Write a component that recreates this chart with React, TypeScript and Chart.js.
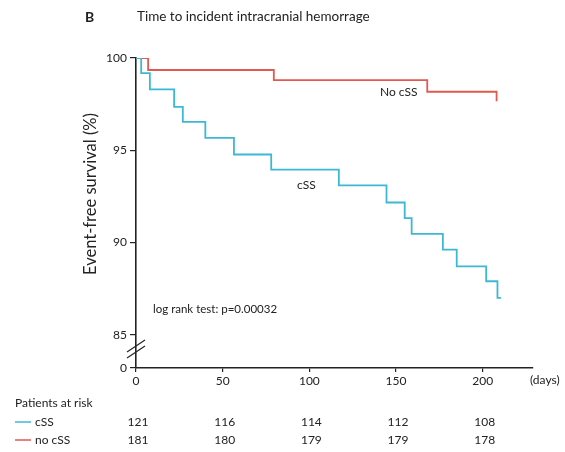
import React, { useEffect, useRef } from "react";
import { Chart, registerables } from "chart.js";
Chart.register(...registerables);

const cssDays = [0, 3, 8, 22, 27, 40, 56.5, 78, 117, 144.5, 155, 159, 177, 185, 202, 208.5, 210.5];
const cssSurvival = [100, 99.18, 98.3, 97.35, 96.54, 95.67, 94.77, 93.95, 93.1, 92.17, 91.32, 90.47, 89.62, 88.71, 87.9, 87.0, 87.0];
const noCssDays = [0, 7, 79.5, 168, 208];
const noCssSurvival = [100, 99.35, 98.8, 98.17, 97.66];
const xTicks = [0, 50, 100, 150, 200];
const yTicks = [85, 90, 95, 100];
const yBreakValue = 83.2;
const riskGroups = ["cSS", "no cSS"];
const riskCss = [121, 116, 114, 112, 108];
const riskNoCss = [181, 180, 179, 179, 178];

const BLUE = "#3db8d4";
const RED = "#e05a50";
const TXT = "#222";
const FONT = "Lato";

export default function App() {
  const ref = useRef<HTMLCanvasElement | null>(null);
  useEffect(() => {
    if (!ref.current) return;
    const overlay = {
      id: "overlay",
      afterDraw(chart: any) {
        const ctx = chart.ctx as CanvasRenderingContext2D;
        const xs = chart.scales.x;
        ctx.save();
        ctx.fillStyle = TXT;
        ctx.textBaseline = "middle";
        ctx.textAlign = "left";
        ctx.font = `bold 14px ${FONT}`;
        ctx.fillText("B", 85, 17);
        ctx.font = `13.5px ${FONT}`;
        ctx.fillText("Time to incident intracranial hemorrage", 137, 17);
        // y title
        ctx.save();
        ctx.translate(91, 194);
        ctx.rotate(-Math.PI / 2);
        ctx.textAlign = "center";
        ctx.font = `16.5px ${FONT}`;
        ctx.fillText("Event-free survival (%)", 0, 0);
        ctx.restore();
        // annotations
        ctx.font = `12px ${FONT}`;
        ctx.fillText("No cSS", 380, 92);
        ctx.fillText("cSS", 297, 185);
        ctx.font = `11.5px ${FONT}`;
        ctx.fillText("log rank test: p=0.00032", 153, 309);
        ctx.font = `12px ${FONT}`;
        ctx.fillText("(days)", 530, 380);
        // break marks
        ctx.strokeStyle = "#222";
        ctx.lineWidth = 1.2;
        for (const y0 of [346, 352]) {
          ctx.beginPath();
          ctx.moveTo(127, y0 + 6);
          ctx.lineTo(145, y0 - 6);
          ctx.stroke();
        }
        // risk table
        ctx.fillText("Patients at risk", 15, 403);
        const rows = [riskCss, riskNoCss];
        const colors = [BLUE, RED];
        const ys = [422, 440];
        rows.forEach((row, i) => {
          ctx.strokeStyle = colors[i];
          ctx.lineWidth = 1.5;
          ctx.beginPath();
          ctx.moveTo(15, ys[i]);
          ctx.lineTo(31, ys[i]);
          ctx.stroke();
          ctx.textAlign = "left";
          ctx.fillText(riskGroups[i], 35, ys[i]);
          ctx.textAlign = "center";
          row.forEach((v, j) => {
            ctx.fillText(String(v), xs.getPixelForValue(xTicks[j]) + 2, ys[i]);
          });
        });
        ctx.restore();
      },
    };
    const chart = new Chart(ref.current, {
      type: "line",
      data: {
        datasets: [
          {
            label: "cSS",
            data: cssDays.map((d, i) => ({ x: d, y: cssSurvival[i] })),
            borderColor: BLUE,
            borderWidth: 1.8,
            stepped: "before",
            pointRadius: 0,
            fill: false,
          },
          {
            label: "No cSS",
            data: noCssDays.map((d, i) => ({ x: d, y: noCssSurvival[i] })),
            borderColor: RED,
            borderWidth: 1.8,
            stepped: "before",
            pointRadius: 0,
            fill: false,
          },
        ],
      },
      options: {
        responsive: false,
        animation: false,
        layout: { padding: { top: 58, right: 32, left: 0, bottom: 0 } },
        plugins: { legend: { display: false }, tooltip: { enabled: false } },
        scales: {
          x: {
            type: "linear",
            min: 0,
            max: 229,
            afterBuildTicks: (s: any) => {
              s.ticks = xTicks.map((v) => ({ value: v }));
            },
            afterFit: (s: any) => {
              s.height = 84;
            },
            ticks: { font: { family: FONT, size: 12 }, color: TXT, padding: 2, maxRotation: 0 },
            grid: { display: true, drawOnChartArea: false, tickLength: 4, color: "#222", lineWidth: 1.2 },
            border: { display: true, color: "#222", width: 1.6 },
          },
          y: {
            type: "linear",
            min: yBreakValue,
            max: 100,
            afterBuildTicks: (s: any) => {
              s.ticks = [yBreakValue, ...yTicks].map((v) => ({ value: v }));
            },
            afterFit: (s: any) => {
              s.width = 136;
            },
            ticks: {
              font: { family: FONT, size: 12 },
              color: TXT,
              padding: 3,
              callback: (v: any) => (v === yBreakValue ? "0" : String(v)),
            },
            grid: { display: true, drawOnChartArea: false, tickLength: 6, color: "#222", lineWidth: 1.2 },
            border: { display: true, color: "#222", width: 1.6 },
          },
        },
      },
      plugins: [overlay],
    });
    return () => chart.destroy();
  }, []);
  return (
    <div style={{ position: "absolute", left: 0, top: 0, width: 565, height: 452, background: "#fff" }}>
      <canvas ref={ref} width={565} height={452} />
    </div>
  );
}
